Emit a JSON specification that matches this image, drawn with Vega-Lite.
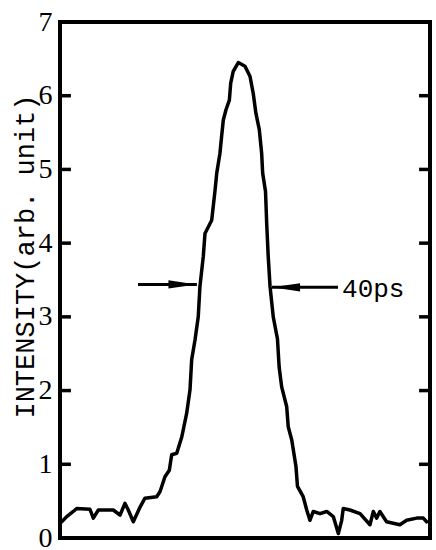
{
  "$schema": "https://vega.github.io/schema/vega-lite/v6.json",
  "width": 370,
  "height": 516,
  "autosize": {"type": "none"},
  "padding": {"left": 60, "top": 22, "right": 6, "bottom": 12},
  "background": "white",
  "view": {"stroke": "black", "strokeWidth": 4},
  "config": {
    "axis": {"grid": false}
  },
  "datasets": {
    "pulse": [
      {"t": 1, "v": 0.22}, {"t": 4.0, "v": 0.29}, {"t": 7.9, "v": 0.36}, {"t": 9.9, "v": 0.40},
      {"t": 17.8, "v": 0.39}, {"t": 19.8, "v": 0.27}, {"t": 22.8, "v": 0.38}, {"t": 31.7, "v": 0.38},
      {"t": 35.7, "v": 0.31}, {"t": 38.6, "v": 0.47}, {"t": 40.6, "v": 0.38}, {"t": 43.6, "v": 0.22},
      {"t": 47.6, "v": 0.42}, {"t": 50.5, "v": 0.54}, {"t": 57.5, "v": 0.56}, {"t": 59.5, "v": 0.63},
      {"t": 62.4, "v": 0.83}, {"t": 65.0, "v": 0.92}, {"t": 66.4, "v": 1.13}, {"t": 69.4, "v": 1.15},
      {"t": 72.4, "v": 1.37}, {"t": 75.3, "v": 1.69}, {"t": 77.3, "v": 2.01}, {"t": 78.3, "v": 2.42},
      {"t": 80.3, "v": 2.69}, {"t": 82.2, "v": 3.0}, {"t": 83.2, "v": 3.41}, {"t": 85.2, "v": 3.82},
      {"t": 86.2, "v": 4.13}, {"t": 90.2, "v": 4.31}, {"t": 92.2, "v": 4.72}, {"t": 93.2, "v": 4.95},
      {"t": 95.1, "v": 5.22}, {"t": 96.1, "v": 5.45}, {"t": 97.1, "v": 5.67}, {"t": 98.7, "v": 5.81},
      {"t": 100.7, "v": 5.94}, {"t": 101.5, "v": 6.17}, {"t": 103.0, "v": 6.33}, {"t": 106.0, "v": 6.45},
      {"t": 110.0, "v": 6.40}, {"t": 113.0, "v": 6.26}, {"t": 114.9, "v": 6.03}, {"t": 116.5, "v": 5.76},
      {"t": 118.5, "v": 5.54}, {"t": 119.9, "v": 5.22}, {"t": 120.5, "v": 4.95}, {"t": 122.2, "v": 4.70},
      {"t": 122.9, "v": 4.27}, {"t": 123.8, "v": 3.82}, {"t": 124.9, "v": 3.41}, {"t": 126.8, "v": 3.0},
      {"t": 129.3, "v": 2.70}, {"t": 130.3, "v": 2.32}, {"t": 131.8, "v": 2.05}, {"t": 134.8, "v": 1.78},
      {"t": 135.7, "v": 1.51}, {"t": 137.8, "v": 1.33}, {"t": 140.3, "v": 0.97}, {"t": 141.2, "v": 0.70},
      {"t": 144.6, "v": 0.56}, {"t": 146.7, "v": 0.38}, {"t": 148.6, "v": 0.24}, {"t": 150.6, "v": 0.36},
      {"t": 154.6, "v": 0.33}, {"t": 158.6, "v": 0.36}, {"t": 162.5, "v": 0.29}, {"t": 165.5, "v": 0.06},
      {"t": 167.5, "v": 0.24}, {"t": 168.4, "v": 0.40}, {"t": 172.4, "v": 0.38}, {"t": 178.4, "v": 0.33},
      {"t": 184.3, "v": 0.18}, {"t": 186.3, "v": 0.36}, {"t": 188.3, "v": 0.27}, {"t": 190.2, "v": 0.36},
      {"t": 194.2, "v": 0.22}, {"t": 202.1, "v": 0.18}, {"t": 206.1, "v": 0.24}, {"t": 212.1, "v": 0.27},
      {"t": 216.0, "v": 0.27}, {"t": 218.0, "v": 0.22}
    ],
    "frameticks": [
      {"t1": 0, "t2": 6.5, "v": 1}, {"t1": 0, "t2": 6.5, "v": 2}, {"t1": 0, "t2": 6.5, "v": 3},
      {"t1": 0, "t2": 6.5, "v": 4}, {"t1": 0, "t2": 6.5, "v": 5}, {"t1": 0, "t2": 6.5, "v": 6},
      {"t1": 213.5, "t2": 220, "v": 1}, {"t1": 213.5, "t2": 220, "v": 2}, {"t1": 213.5, "t2": 220, "v": 3},
      {"t1": 213.5, "t2": 220, "v": 4}, {"t1": 213.5, "t2": 220, "v": 5}, {"t1": 213.5, "t2": 220, "v": 6}
    ],
    "arrows": [
      {"side": "left", "t1": 46.4, "t2": 81.4, "v": 3.44},
      {"side": "right", "t1": 126.0, "t2": 165.3, "v": 3.40}
    ],
    "heads": [
      {"side": "left", "t": 72.8, "v": 3.44, "dir": "right"},
      {"side": "right", "t": 134.4, "v": 3.40, "dir": "left"}
    ],
    "notes": [
      {"t": 167.7, "v": 3.38, "text": "40ps"}
    ]
  },
  "layer": [
    {
      "data": {"name": "pulse"},
      "mark": {"type": "line", "color": "black", "strokeWidth": 3.5, "strokeJoin": "round", "strokeCap": "round"},
      "encoding": {
        "x": {"field": "t", "type": "quantitative", "scale": {"domain": [0, 220], "nice": false}, "axis": null},
        "y": {
          "field": "v", "type": "quantitative",
          "scale": {"domain": [0, 7], "nice": false},
          "axis": {
            "orient": "left",
            "domain": false,
            "ticks": false,
            "values": [0, 1, 2, 3, 4, 5, 6, 7],
            "format": "d",
            "title": "INTENSITY(arb. unit)",
            "titleFont": "Liberation Mono",
            "titleFontSize": 27,
            "titleFontWeight": "normal",
            "titleColor": "black",
            "titleAngle": 270,
            "titleAlign": "center",
            "titleBaseline": "middle",
            "titleX": -35,
            "titleY": 234,
            "labelFont": "Liberation Serif",
            "labelFontSize": 28,
            "labelColor": "black",
            "labelBaseline": "middle",
            "labelFlush": false,
            "labelPadding": 8
          }
        }
      }
    },
    {
      "data": {"name": "frameticks"},
      "mark": {"type": "rule", "color": "black", "strokeWidth": 3.5},
      "encoding": {
        "x": {"field": "t1", "type": "quantitative"},
        "x2": {"field": "t2"},
        "y": {"field": "v", "type": "quantitative"}
      }
    },
    {
      "data": {"name": "arrows"},
      "mark": {"type": "rule", "color": "black", "strokeWidth": 3},
      "encoding": {
        "x": {"field": "t1", "type": "quantitative"},
        "x2": {"field": "t2"},
        "y": {"field": "v", "type": "quantitative"}
      }
    },
    {
      "data": {"name": "heads"},
      "transform": [{"filter": "datum.dir == 'right'"}],
      "mark": {"type": "point", "filled": true, "color": "black", "opacity": 1, "size": 784, "shape": "M -1 -0.3 L 1 0 L -1 0.3 Z"},
      "encoding": {
        "x": {"field": "t", "type": "quantitative"},
        "y": {"field": "v", "type": "quantitative"}
      }
    },
    {
      "data": {"name": "heads"},
      "transform": [{"filter": "datum.dir == 'left'"}],
      "mark": {"type": "point", "filled": true, "color": "black", "opacity": 1, "size": 784, "shape": "M 1 -0.3 L -1 0 L 1 0.3 Z"},
      "encoding": {
        "x": {"field": "t", "type": "quantitative"},
        "y": {"field": "v", "type": "quantitative"}
      }
    },
    {
      "data": {"name": "notes"},
      "mark": {"type": "text", "font": "Liberation Mono", "fontSize": 26, "align": "left", "baseline": "middle", "color": "black"},
      "encoding": {
        "x": {"field": "t", "type": "quantitative"},
        "y": {"field": "v", "type": "quantitative"},
        "text": {"field": "text"}
      }
    }
  ]
}
